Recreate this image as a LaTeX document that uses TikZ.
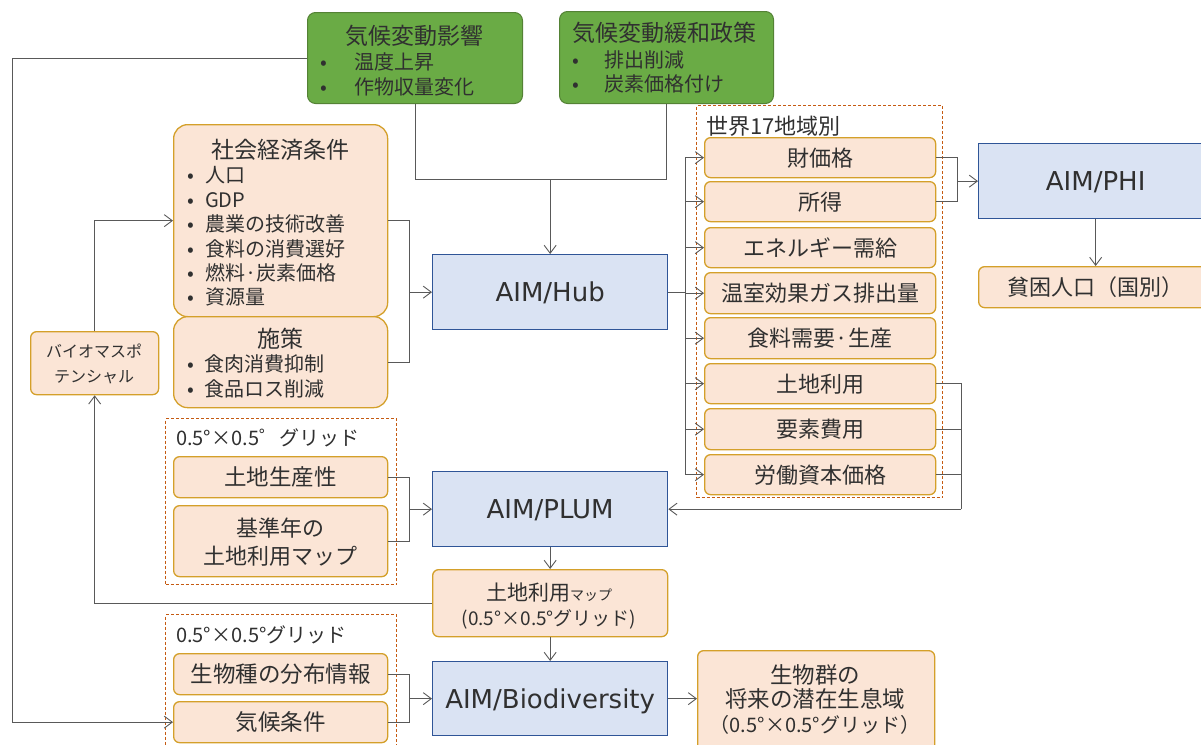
\documentclass[tikz,border=0pt]{standalone}
\usepackage{fontspec}
\setmainfont{Noto Sans CJK JP}
\newfontfamily\latf{DejaVu Sans}
\usetikzlibrary{arrows.meta}
\definecolor{gfill}{HTML}{6AAB45}
\definecolor{gborder}{HTML}{548235}
\definecolor{ofill}{HTML}{FBE5D6}
\definecolor{oborder}{HTML}{D4A02A}
\definecolor{bfill}{HTML}{DAE3F3}
\definecolor{bborder}{HTML}{2F5597}
\definecolor{dashc}{HTML}{C55A11}
\definecolor{linec}{HTML}{595959}
\definecolor{txt}{HTML}{303030}
\newcommand\fs[1]{\fontsize{#1pt}{#1pt}\selectfont}
\newcommand\bx[7]{\node[#2, anchor=north west, inner sep=0pt, minimum width={(#5)-(#3)}, minimum height={(#6)-(#4)}] (#1) at (#3,#4) {#7};}
\tikzset{
  every node/.style={text=txt},
  tx/.style={inner sep=0pt, font=\fs{#1}, text height={0.88*#1}, text depth={0.12*#1}},
  ob/.style={draw=oborder, fill=ofill, line width=1.3pt, rounded corners=6pt},
  obr/.style={draw=oborder, fill=ofill, line width=1.3pt, rounded corners=14pt},
  bb/.style={draw=bborder, fill=bfill, line width=1.3pt, font=\latf\fs{26}, text height={0.73*26}, text depth=0pt},
  gb/.style={draw=gborder, fill=gfill, line width=1pt, rounded corners=8pt},
  dbox/.style={draw=dashc, line width=1pt, dash pattern=on 3pt off 2pt},
  conn/.style={draw=linec, line width=0.9pt},
  arr/.style={conn, -{Straight Barb[length=8pt,width=12pt]}},
}
\begin{document}
\begin{tikzpicture}[x=1pt,y=-1pt]
\useasboundingbox (0,0) rectangle (1201,744);

% dashed frames
\bx{d1}{dbox}{165}{418}{396}{584}{}
\bx{d2}{dbox}{165}{614}{396}{770}{}
\bx{d3}{dbox}{696}{105}{942}{497}{}
\node[tx=20,anchor=west] (d1l) at (176,438) {0.5°×0.5゜グリッド};
\node[tx=20,anchor=west] (d2l) at (176,635) {0.5°×0.5°グリッド};
\node[tx=22,anchor=west] (d3l) at (706,126) {世界17地域別};

% green boxes
\bx{g1}{gb}{307}{12}{522}{103}{}
\node[tx=23] (g1t) at (414,36) {気候変動影響};
\node[tx=20] (g1p1) at (324,62) {•};
\node[tx=20,anchor=west] (g1a) at (354,62) {温度上昇};
\node[tx=20] (g1p2) at (324,87) {•};
\node[tx=20,anchor=west] (g1b) at (354,87) {作物収量変化};

\bx{g2}{gb}{559}{11}{773}{103}{}
\node[tx=23,anchor=west] (g2t) at (572,33) {気候変動緩和政策};
\node[tx=20] (g2p1) at (576,60) {•};
\node[tx=20,anchor=west] (g2a) at (604,60) {排出削減};
\node[tx=20] (g2p2) at (576,84) {•};
\node[tx=20,anchor=west] (g2b) at (604,84) {炭素価格付け};

% socio-economic
\bx{soc}{obr}{173}{124}{387}{316}{}
\node[tx=23] (soct) at (280,150) {社会経済条件};
\foreach \y/\t/\n in {175/人口/s1,200/GDP/s2,224/農業の技術改善/s3,249/食料の消費選好/s4,273/燃料·炭素価格/s5,297/資源量/s6}{
  \node[tx=20] (\n p) at (191,\y) {•};
  \node[tx=20,anchor=west] (\n) at (205,\y) {\t};
}
\bx{shi}{obr}{173}{316}{387}{407}{}
\node[tx=23] (shit) at (280,339) {施策};
\node[tx=20] (shp1) at (191,364) {•};
\node[tx=20,anchor=west] (sh1) at (204,364) {食肉消費抑制};
\node[tx=20] (shp2) at (191,389) {•};
\node[tx=20,anchor=west] (sh2) at (204,389) {食品ロス削減};

% biomass
\bx{bio}{ob}{30}{331}{158}{394}{}
\node[tx=16] (bio1) at (94,351) {バイオマスポ};
\node[tx=16] (bio2) at (94,376) {テンシャル};

% grid inputs
\bx{tochi}{ob,tx=22.5}{173}{456}{387}{497}{土地生産性}
\bx{kijun}{ob}{173}{505}{387}{576}{}
\node[tx=22] (kj1) at (280,528) {基準年の};
\node[tx=22] (kj2) at (280,556) {土地利用マップ};
\bx{seib}{ob,tx=22.5}{173}{653}{387}{694}{生物種の分布情報}
\bx{kiko}{ob,tx=22.5}{173}{701}{387}{742}{気候条件}

% models
\bx{hub}{bb}{432}{254}{667}{329}{AIM/Hub}
\bx{plum}{bb}{432}{471}{667}{546}{AIM/PLUM}
\bx{biod}{bb}{432}{661}{667}{735}{AIM/Biodiversity}
\bx{phi}{bb}{978}{143}{1212}{218}{AIM/PHI}

% land-use map
\bx{lmap}{ob}{432}{569}{667}{636}{}
\node[tx=21] (lm1) at (549,593) {土地利用{\fs{14}マップ}};
\node[tx=19] (lm2) at (549,618) {(0.5°×0.5°グリッド)};

% biodiversity output
\bx{gun}{ob}{697}{650}{934}{770}{}
\node[tx=22.5] (gn1) at (815,675) {生物群の};
\node[tx=22.5] (gn2) at (815,699) {将来の潜在生息域};
\node[tx=20] (gn3) at (815,725) {（0.5°×0.5°グリッド）};

% regional outputs
\bx{r1}{ob,tx=22}{704}{137}{935}{177}{財価格}
\bx{r2}{ob,tx=22}{704}{181}{935}{221}{所得}
\bx{r3}{ob,tx=22}{704}{227}{935}{267}{エネルギー需給}
\bx{r4}{ob,tx=22}{704}{272}{935}{313}{温室効果ガス排出量}
\bx{r5}{ob,tx=22}{704}{317}{935}{358}{食料需要·生産}
\bx{r6}{ob,tx=22}{704}{363}{935}{403}{土地利用}
\bx{r7}{ob,tx=22}{704}{408}{935}{449}{要素費用}
\bx{r8}{ob,tx=22}{704}{454}{935}{494}{労働資本価格}

% poverty
\bx{hin}{ob,tx=22}{978}{266}{1212}{307}{貧困人口（国別）}

% ---------- connectors ----------
\draw[arr] (g1.west) -| (12,0 |- kiko.west) -- (kiko.west);
\coordinate (jn) at (hub.north |- 0,179);
\draw[conn] (g1.south) |- (jn);
\draw[conn] (g2.south) |- (jn);
\draw[arr] (jn) -- (hub.north);

\coordinate (j2) at (409,0 |- hub.west);
\draw[conn] (soc.east) -| (j2);
\draw[conn] (shi.east) -| (j2);
\draw[arr] (j2) -- (hub.west);

\draw[arr] (bio.north) |- (soc.west);
\draw[arr] (lmap.west) -| (bio.south);

\coordinate (j3) at (409,0 |- plum.west);
\draw[conn] (tochi.east) -| (j3);
\draw[conn] (kijun.east) -| (j3);
\draw[arr] (j3) -- (plum.west);

\draw[arr] (plum.south) -- (lmap.north);
\draw[arr] (lmap.south) -- (biod.north);

\coordinate (j4) at (409,0 |- biod.west);
\draw[conn] (seib.east) -| (j4);
\draw[conn] (kiko.east) -| (j4);
\draw[arr] (j4) -- (biod.west);

\draw[arr] (biod.east) -- (biod.east -| gun.west);

\coordinate (hx) at (685,0 |- hub.east);
\draw[conn] (hub.east) -- (hx);
\foreach \r in {r1,r2,r3,r4,r5,r6,r7,r8}{
  \draw[arr] (hx) |- (\r.west);
}

\coordinate (px) at (957,0 |- phi.west);
\draw[conn] (r1.east) -| (px);
\draw[conn] (r2.east) -| (px);
\draw[arr] (px) -- (phi.west);
\draw[arr] (phi.south) -- (hin.north);

\coordinate (rx) at (961,0 |- plum.east);
\draw[conn] (r6.east) -| (rx);
\draw[conn] (r7.east) -| (rx);
\draw[conn] (r8.east) -| (rx);
\draw[arr] (rx) -- (plum.east);
\end{tikzpicture}
\end{document}
